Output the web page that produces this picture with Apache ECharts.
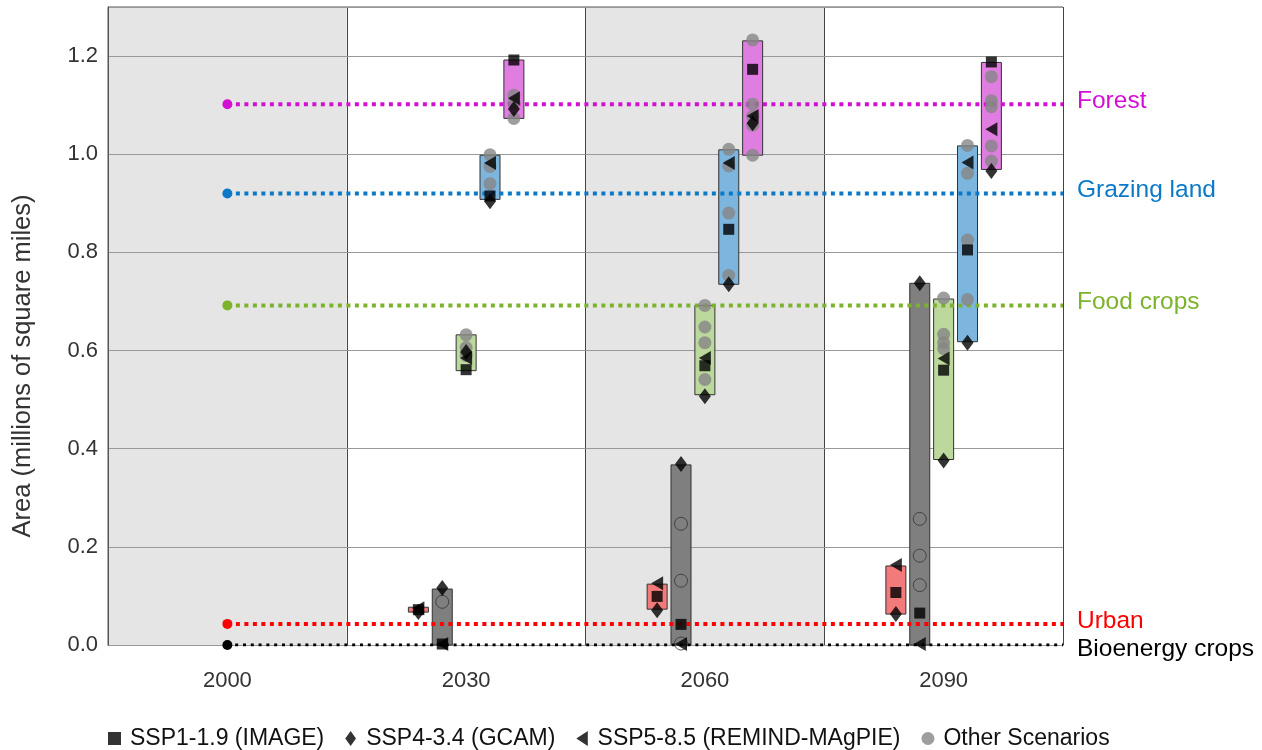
<!DOCTYPE html>
<html>
<head>
<meta charset="utf-8">
<script src="https://cdn.jsdelivr.net/npm/echarts@6/dist/echarts.min.js"></script>
<style>
  html, body { margin: 0; padding: 0; background: #fff; }
  #main { width: 1262px; height: 750px; }
</style>
</head>
<body>
<div id="main"></div>
<script>
// categories
var years = ['2000', '2030', '2060', '2090'];
var landTypes = ['Urban', 'Bioenergy crops', 'Food crops', 'Grazing land', 'Forest'];

// year 2000 values (urban, bioenergy, food, grazing, forest)
var baseline2000 = [0.043, 0, 0.692, 0.92, 1.102];

// scenario range (low, high) for 2030, 2060, 2090
var urbanRange   = [[0.067, 0.077], [0.073, 0.124], [0.063, 0.161]];
var bioRange     = [[0, 0.114], [0, 0.367], [0, 0.737]];
var foodRange    = [[0.559, 0.632], [0.510, 0.692], [0.378, 0.705]];
var grazingRange = [[0.908, 0.998], [0.735, 1.009], [0.618, 1.017]];
var forestRange  = [[1.073, 1.192], [0.998, 1.231], [0.969, 1.187]];

// SSP1-1.9 (IMAGE)
var ssp1 = [
  [0.072, 0.099, 0.107],
  [0.002, 0.042, 0.065],
  [0.561, 0.569, 0.560],
  [0.915, 0.847, 0.805],
  [1.192, 1.173, 1.188]
];
// SSP4-3.4 (GCAM)
var ssp4 = [
  [0.067, 0.071, 0.063],
  [0.116, 0.369, 0.737],
  [0.597, 0.507, 0.376],
  [0.904, 0.735, 0.616],
  [1.092, 1.063, 0.966]
];
// SSP5-8.5 (REMIND-MAgPIE)
var ssp5 = [
  [0.075, 0.126, 0.163],
  [0.002, 0.002, 0.002],
  [0.585, 0.585, 0.584],
  [0.982, 0.982, 0.983],
  [1.114, 1.078, 1.051]
];
// other scenarios
var others = [
  [[], [], []],
  [[0.088], [0.247, 0.131, 0.003], [0.257, 0.182, 0.122]],
  [[0.632, 0.606, 0.59], [0.692, 0.648, 0.616, 0.541], [0.707, 0.633, 0.616, 0.604]],
  [[0.999, 0.975, 0.94], [1.010, 0.976, 0.880, 0.753], [1.018, 0.961, 0.825, 0.704]],
  [[1.073, 1.104, 1.12], [1.233, 1.102, 1.077, 1.059, 0.998], [1.158, 1.109, 1.097, 1.017, 0.986]]
];

var ranges = [urbanRange, bioRange, foodRange, grazingRange, forestRange];
var lineColors = ['#ff0000', '#000000', '#7cb32b', '#0b79c8', '#d30fd3'];
var boxColors = ['#f37a7a', '#7f7f7f', '#bdd89d', '#7cb5de', '#e07de0'];
var slot = [-0.2, -0.1, 0, 0.1, 0.2];

function xPos(yi, t) { return yi + 0.5 + slot[t]; }

var boxData = [];
var sq = [], dia = [], tri = [], grey = [], hollow = [];
for (var t = 0; t < landTypes.length; t++) {
  for (var k = 0; k < 3; k++) {
    var x = xPos(k + 1, t);
    boxData.push([x, ranges[t][k][0], ranges[t][k][1], t]);
    sq.push([x, ssp1[t][k]]);
    dia.push([x, ssp4[t][k]]);
    tri.push([x, ssp5[t][k]]);
    others[t][k].forEach(function (v) {
      (t === 1 ? hollow : grey).push([x, v]);
    });
  }
}

var font = 'Liberation Sans, Arial, sans-serif';

var series = [{
  type: 'custom',
  xAxisIndex: 1,
  z: 2,
  silent: true,
  data: boxData,
  encode: { x: 0, y: [1, 2] },
  renderItem: function (params, api) {
    var x = api.value(0);
    var top = api.coord([x, api.value(2)]);
    var bot = api.coord([x, api.value(1)]);
    return {
      type: 'rect',
      shape: { x: top[0] - 10, y: top[1], width: 20, height: bot[1] - top[1] },
      style: { fill: boxColors[api.value(3)], stroke: '#333', lineWidth: 1 }
    };
  }
}];

landTypes.forEach(function (name, t) {
  series.push({
    type: 'line',
    name: name,
    xAxisIndex: 1,
    z: 3,
    silent: true,
    data: [
      { value: [0.5, baseline2000[t]], symbol: 'circle', symbolSize: 10 },
      { value: [years.length, baseline2000[t]], symbol: 'none' }
    ],
    itemStyle: { color: lineColors[t] },
    lineStyle: { color: lineColors[t], width: t === 1 ? 3 : 4, type: t === 1 ? [3, 4.8] : [4, 4.5] },
    endLabel: {
      show: true,
      formatter: name,
      color: lineColors[t],
      fontSize: 24.5,
      fontFamily: font,
      distance: 14,
      offset: [0, t === 1 ? 4 : -3]
    }
  });
});

series.push({
  type: 'scatter', name: 'Other Scenarios', xAxisIndex: 1, z: 4,
  symbol: 'circle', symbolSize: 13,
  itemStyle: { color: '#868686' },
  data: grey
});
series.push({
  type: 'scatter', name: 'Other Scenarios (bioenergy)', xAxisIndex: 1, z: 4,
  symbol: 'circle', symbolSize: 13,
  itemStyle: { color: 'rgba(0,0,0,0)', borderColor: '#333', borderWidth: 1 },
  data: hollow
});
series.push({
  type: 'scatter', name: 'SSP1-1.9 (IMAGE)', xAxisIndex: 1, z: 5,
  symbol: 'rect', symbolSize: 11,
  itemStyle: { color: '#000' },
  data: sq
});
series.push({
  type: 'scatter', name: 'SSP4-3.4 (GCAM)', xAxisIndex: 1, z: 5,
  symbol: 'diamond', symbolSize: [12, 16],
  itemStyle: { color: '#000' },
  data: dia
});
series.push({
  type: 'scatter', name: 'SSP5-8.5 (REMIND-MAgPIE)', xAxisIndex: 1, z: 5,
  symbol: 'triangle', symbolSize: [14, 12], symbolRotate: 90,
  itemStyle: { color: '#000' },
  data: tri
});

var option = {
  animation: false,
  backgroundColor: '#fff',
  grid: { left: 108, right: 199, top: 7, bottom: 105, show: true, borderColor: '#555', borderWidth: 1, backgroundColor: 'transparent' },
  legend: {
    data: [
      { name: 'SSP1-1.9 (IMAGE)', icon: 'path://M0,0 L11,0 L11,11 L0,11 Z' },
      { name: 'SSP4-3.4 (GCAM)', icon: 'path://M5,0 L10,7 L5,14 L0,7 Z' },
      { name: 'SSP5-8.5 (REMIND-MAgPIE)', icon: 'path://M10,0 L10,13 L0,6.5 Z' },
      { name: 'Other Scenarios', icon: 'circle' }
    ],
    bottom: -5,
    left: 103,
    itemWidth: 13,
    itemHeight: 15,
    itemGap: 21,
    textStyle: { fontSize: 23, color: '#111', fontFamily: font, padding: [0, 0, 0, 4] }
  },
  xAxis: [{
    type: 'category',
    data: years,
    boundaryGap: true,
    z: 0,
    axisLine: { show: true, lineStyle: { color: '#555' } },
    axisTick: { show: false },
    axisLabel: { fontSize: 22, color: '#333', margin: 25, fontFamily: font },
    splitLine: { show: true, lineStyle: { color: '#444', width: 1 } },
    splitArea: { show: true, areaStyle: { color: ['#e5e5e5', '#ffffff'] } }
  }, {
    type: 'value',
    min: 0,
    max: years.length,
    show: false
  }],
  yAxis: {
    type: 'value',
    min: 0,
    max: 1.3,
    interval: 0.2,
    z: 1,
    name: 'Area (millions of square miles)',
    nameLocation: 'middle',
    nameGap: 72,
    nameTextStyle: { fontSize: 25.5, color: '#333', fontFamily: font, padding: [0, 80, 0, 0] },
    axisLine: { show: true, lineStyle: { color: '#555' } },
    axisTick: { show: false },
    axisLabel: {
      fontSize: 22, color: '#333', margin: 10, fontFamily: font,
      showMaxLabel: false,
      formatter: function (v) { return v.toFixed(1); }
    },
    splitLine: { show: true, lineStyle: { color: '#999', width: 1 } }
  },
  series: series
};

var chart = echarts.init(document.getElementById('main'));
chart.setOption(option);
</script>
</body>
</html>
